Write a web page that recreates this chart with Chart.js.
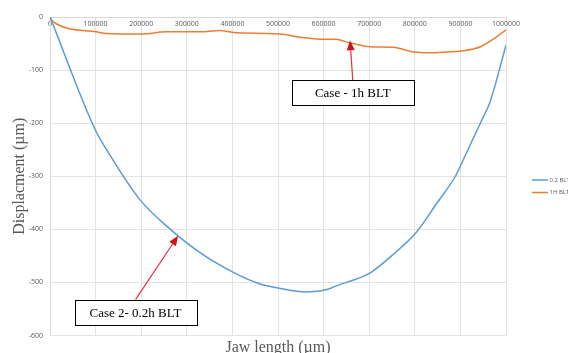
<!DOCTYPE html>
<html>
<head>
<meta charset="utf-8">
<script src="https://cdn.jsdelivr.net/npm/chart.js@4/dist/chart.umd.min.js"></script>
<style>
  html, body { margin: 0; padding: 0; background: #fff; }
  #wrap { width: 568px; height: 353px; }
</style>
</head>
<body>
<div id="wrap"><canvas id="jaw-chart" width="568" height="353"></canvas></div>
<script>
// ---- data ----
const seriesLabels = ["0.2 BLT", "1H BLT"];
const seriesColors = ["#5B9BD5", "#ED7D31"];

const jawLengthShort = [0, 99000, 124000, 197000, 256000, 329000, 402000, 461000, 503000, 560000, 605000, 629000, 680000, 704000, 753000, 803000, 849000, 889000, 903000, 947000, 965000, 1000000];
const dispShort = [0, -212, -250, -344, -394, -444, -481, -503, -511, -518, -514, -506, -491, -481, -447, -406, -350, -300, -275, -194, -160, -53];

const jawLengthLong = [0, 7000, 101000, 124000, 201000, 256000, 329000, 373000, 402000, 505000, 549000, 604000, 626000, 658000, 702000, 753000, 797000, 834000, 870000, 903000, 944000, 973000, 1000000];
const dispLong = [0, -9, -28, -31, -32, -28, -28, -25.5, -29, -32, -38, -42, -42, -49, -56, -57, -66, -67.5, -66, -64, -56, -41, -24];

const xTicks = { min: 0, max: 1000000, step: 100000 };
const yTicks = { min: -600, max: 0, step: 100 };

const xTitle = "Jaw length (µm)";
const yTitle = "Displacment (µm)";

// callouts: text, arrow tip (data coords), box centre (data coords)
const callouts = [
  { text: "Case - 1h BLT", tip: [658000, -44], box: [664000, -143] },
  { text: "Case 2- 0.2h BLT", tip: [281000, -412], box: [187500, -556] },
];

const toPoints = (xs, ys) => xs.map((x, i) => ({ x: x, y: ys[i] }));

const extras = {
  id: "extras",
  afterDraw(chart) {
    const { ctx, chartArea, scales } = chart;
    const xs = scales.x, ys = scales.y;
    ctx.save();

    // x axis title at the bottom
    ctx.fillStyle = "#595959";
    ctx.font = "16px 'Liberation Serif'";
    ctx.textAlign = "center";
    ctx.textBaseline = "alphabetic";
    ctx.fillText(xTitle, (chartArea.left + chartArea.right) / 2, 351.5);

    // legend on the right
    ctx.font = "6px 'Open Sans'";
    ctx.textAlign = "left";
    ctx.textBaseline = "middle";
    chart.data.datasets.forEach((ds, i) => {
      const y = 180 + i * 12.5;
      ctx.strokeStyle = ds.borderColor;
      ctx.lineWidth = 1.5;
      ctx.beginPath();
      ctx.moveTo(532, y);
      ctx.lineTo(548, y);
      ctx.stroke();
      ctx.fillStyle = "#595959";
      ctx.fillText(ds.label, 549.5, y);
    });

    // callout boxes with red arrows
    ctx.font = "13px 'Liberation Serif'";
    callouts.forEach((c) => {
      const bx = xs.getPixelForValue(c.box[0]);
      const by = ys.getPixelForValue(c.box[1]);
      const tx = xs.getPixelForValue(c.tip[0]);
      const ty = ys.getPixelForValue(c.tip[1]);
      const w = 122, h = 25;
      const sx = bx;
      const sy = ty < by ? by - h / 2 : by + h / 2;
      const ang = Math.atan2(ty - sy, tx - sx);
      const head = 10;
      ctx.strokeStyle = "#E8303A";
      ctx.lineWidth = 1.2;
      ctx.beginPath();
      ctx.moveTo(sx, sy);
      ctx.lineTo(tx - Math.cos(ang) * head, ty - Math.sin(ang) * head);
      ctx.stroke();
      ctx.fillStyle = "#D0101A";
      ctx.beginPath();
      ctx.moveTo(tx, ty);
      ctx.lineTo(tx - Math.cos(ang) * head + Math.sin(ang) * 4, ty - Math.sin(ang) * head - Math.cos(ang) * 4);
      ctx.lineTo(tx - Math.cos(ang) * head - Math.sin(ang) * 4, ty - Math.sin(ang) * head + Math.cos(ang) * 4);
      ctx.closePath();
      ctx.fill();
      // box
      ctx.fillStyle = "#ffffff";
      ctx.fillRect(bx - w / 2, by - h / 2, w, h);
      ctx.strokeStyle = "#000000";
      ctx.lineWidth = 1;
      ctx.strokeRect(Math.round(bx - w / 2) + 0.5, Math.round(by - h / 2) + 0.5, w, h);
      ctx.fillStyle = "#000000";
      ctx.textAlign = "center";
      ctx.textBaseline = "middle";
      ctx.fillText(c.text, bx, by + 1);
    });
    ctx.restore();
  },
};

const ctx = document.getElementById("jaw-chart");
new Chart(ctx, {
  type: "line",
  data: {
    datasets: [
      {
        label: seriesLabels[0],
        data: toPoints(jawLengthShort, dispShort),
        borderColor: seriesColors[0],
        backgroundColor: seriesColors[0],
        borderWidth: 1.5,
        pointRadius: 0,
        cubicInterpolationMode: "monotone",
      },
      {
        label: seriesLabels[1],
        data: toPoints(jawLengthLong, dispLong),
        borderColor: seriesColors[1],
        backgroundColor: seriesColors[1],
        borderWidth: 1.5,
        pointRadius: 0,
        cubicInterpolationMode: "monotone",
      },
    ],
  },
  options: {
    responsive: false,
    animation: false,
    layout: { padding: { left: 0, right: 62, top: 17, bottom: 17.5 } },
    plugins: {
      legend: { display: false },
      tooltip: { enabled: false },
    },
    scales: {
      x: {
        type: "linear",
        position: { y: 0 },
        min: xTicks.min,
        max: xTicks.max,
        ticks: {
          stepSize: xTicks.step,
          color: "#595959",
          font: { size: 7, family: "'Open Sans'" },
          padding: 3,
          maxRotation: 0,
          callback: (v) => String(v),
        },
        grid: { color: "#e3e3e3", drawTicks: false },
        border: { color: "#d9d9d9" },
      },
      y: {
        min: yTicks.min,
        max: yTicks.max,
        ticks: {
          stepSize: yTicks.step,
          color: "#595959",
          font: { size: 7, family: "'Open Sans'" },
          padding: 7,
        },
        grid: { color: "#e3e3e3", drawTicks: false },
        border: { color: "#d9d9d9" },
        title: {
          display: true,
          text: yTitle,
          color: "#595959",
          font: { size: 16, family: "'Liberation Serif'" },
          padding: { top: 10, bottom: 0 },
        },
        afterFit(scale) {
          scale.width = 50;
        },
      },
    },
  },
  plugins: [extras],
});
</script>
</body>
</html>
